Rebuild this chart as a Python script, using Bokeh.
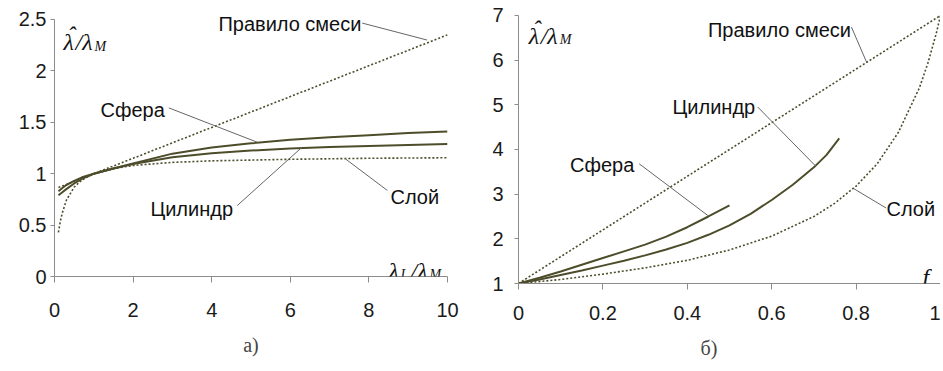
from bokeh.plotting import figure
from bokeh.layouts import row
from bokeh.models import Label, Title, FixedTicker, Range1d
from bokeh.embed import file_html
from bokeh.resources import INLINE

# ---------------- data: panel a) (lambda_I / lambda_M) ----------------
a_x = [0.1, 0.2, 0.3, 0.5, 0.7, 1, 1.5, 2, 3, 4, 5, 6, 7, 8, 9, 10]
a_sphere = [0.83, 0.86, 0.89, 0.93, 0.965, 1.0, 1.05, 1.10, 1.195, 1.255, 1.295, 1.33, 1.355, 1.375, 1.395, 1.41]
a_cylinder = [0.79, 0.82, 0.85, 0.905, 0.95, 1.0, 1.05, 1.095, 1.16, 1.20, 1.225, 1.245, 1.26, 1.27, 1.28, 1.29]
a_layer_x = [0.1, 0.15, 0.2, 0.3, 0.5, 0.7, 1, 1.5, 2, 3, 4, 6, 8, 10]
a_layer = [0.43, 0.54, 0.62, 0.74, 0.87, 0.94, 1.0, 1.05, 1.08, 1.11, 1.125, 1.14, 1.15, 1.155]
a_mix_x = [0.1, 1, 2, 4, 6, 8, 10]
a_mix = [0.865, 1.0, 1.15, 1.45, 1.75, 2.05, 2.35]
a_xticks = [0, 2, 4, 6, 8, 10]
a_xlabels = ["0", "2", "4", "6", "8", "10"]
a_yticks = [0, 0.5, 1, 1.5, 2, 2.5]
a_ylabels = ["0", "0.5", "1", "1.5", "2", "2.5"]

# ---------------- data: panel б) (f) ----------------
b_sphere_f = [0, 0.05, 0.1, 0.15, 0.2, 0.25, 0.3, 0.35, 0.4, 0.45, 0.5]
b_sphere = [1.0, 1.13, 1.27, 1.42, 1.57, 1.72, 1.87, 2.05, 2.26, 2.50, 2.75]
b_cyl_f = [0, 0.05, 0.1, 0.15, 0.2, 0.25, 0.3, 0.35, 0.4, 0.45, 0.5, 0.55, 0.6, 0.65, 0.7, 0.73, 0.76]
b_cylinder = [1.0, 1.09, 1.19, 1.29, 1.40, 1.51, 1.63, 1.76, 1.91, 2.09, 2.30, 2.56, 2.87, 3.21, 3.60, 3.88, 4.25]
b_layer_f = [0, 0.1, 0.2, 0.3, 0.4, 0.5, 0.6, 0.7, 0.75, 0.8, 0.85, 0.9, 0.95, 0.97, 0.99, 1.0]
b_layer = [1.0, 1.09, 1.21, 1.35, 1.52, 1.75, 2.06, 2.5, 2.8, 3.18, 3.68, 4.38, 5.38, 5.93, 6.6, 7.0]
b_mix_f = [0, 0.25, 0.5, 0.75, 1.0]
b_mix = [1.0, 2.5, 4.0, 5.5, 7.0]
b_xticks = [0, 0.2, 0.4, 0.6, 0.8, 1.0]
b_xlabels = ["0", "0.2", "0.4", "0.6", "0.8", "1"]
b_yticks = [1, 2, 3, 4, 5, 6, 7]
b_ylabels = ["1", "2", "3", "4", "5", "6", "7"]

CURVE = "#4d4d2b"
LEADER = "#666666"
AXIS = "#8c8c8c"
SANS = "Liberation Sans"
SERIF = "Liberation Serif"


def style(p, xt, xl, yt, yl, x_standoff, y_standoff):
    p.xaxis.ticker = FixedTicker(ticks=xt)
    p.yaxis.ticker = FixedTicker(ticks=yt)
    p.xaxis.major_label_overrides = {t: l for t, l in zip(xt, xl)}
    p.yaxis.major_label_overrides = {t: l for t, l in zip(yt, yl)}
    p.yaxis.bounds = (yt[0], yt[-1])
    for ax in (p.xaxis, p.yaxis):
        ax.axis_line_color = AXIS
        ax.major_tick_line_color = AXIS
        ax.minor_tick_line_color = None
        ax.major_tick_in = 0
        ax.major_label_text_font = SANS
        ax.major_label_text_font_size = "20px"
        ax.major_label_text_color = "#1a1a1a"
    p.xaxis.major_tick_out = 6
    p.yaxis.major_tick_out = 4
    p.xaxis.major_label_standoff = x_standoff
    p.yaxis.major_label_standoff = y_standoff
    p.grid.visible = False
    p.outline_line_color = None
    p.background_fill_color = "white"
    p.border_fill_color = "white"


def text(p, x, y, s, size="20px", font=SANS, style_="normal", align="left",
         baseline="middle", dx=0, dy=0):
    p.add_layout(Label(x=x, y=y, text=s, text_font=font, text_font_size=size,
                       text_font_style=style_, text_align=align,
                       text_baseline=baseline, x_offset=dx, y_offset=dy,
                       text_color="#111111"))


def leader(p, x0, y0, x1, y1):
    p.segment(x0=[x0], y0=[y0], x1=[x1], y1=[y1], line_color=LEADER, line_width=1)


def ratio_title(p, x, y):
    # \hat{lambda} / lambda_M
    text(p, x, y, "λ", size="24px", font=SERIF, style_="italic", baseline="alphabetic")
    text(p, x, y, "ˆ", size="24px", font=SERIF, style_="italic", baseline="alphabetic", dx=4, dy=7)
    text(p, x, y, "/λ", size="24px", font=SERIF, style_="italic", baseline="alphabetic", dx=12)
    text(p, x, y, "M", size="14px", font=SERIF, style_="italic", baseline="alphabetic", dx=31, dy=-4)


# ---------------- panel a ----------------
p1 = figure(frame_width=393, frame_height=271, x_range=Range1d(0, 10), y_range=Range1d(0, 2.636),
            output_backend="svg", toolbar_location=None, title=None,
            min_border_left=54, min_border_right=26, min_border_top=5, min_border_bottom=0)
style(p1, a_xticks, a_xlabels, a_yticks, a_ylabels, 20, 4)

p1.line(a_mix_x, a_mix, line_color=CURVE, line_width=1.6, line_dash="2 2")
p1.line(a_layer_x, a_layer, line_color=CURVE, line_width=1.6, line_dash="2 2")
p1.line(a_x, a_sphere, line_color=CURVE, line_width=2)
p1.line(a_x, a_cylinder, line_color=CURVE, line_width=2)

text(p1, 4.17, 2.46, "Правило смеси")
leader(p1, 7.83, 2.465, 9.48, 2.30)
text(p1, 1.17, 1.615, "Сфера")
leader(p1, 2.91, 1.64, 5.16, 1.306)
text(p1, 2.44, 0.658, "Цилиндр")
leader(p1, 4.65, 0.69, 6.30, 1.258)
text(p1, 8.55, 0.778, "Слой")
leader(p1, 8.47, 0.837, 7.40, 1.145)

ratio_title(p1, 0.23, 2.28)
text(p1, 8.5, 0.058, "λ", size="24px", font=SERIF, style_="italic", baseline="alphabetic")
text(p1, 8.5, 0.058, "I", size="14px", font=SERIF, style_="italic", baseline="alphabetic", dx=12, dy=-4)
text(p1, 8.5, 0.058, "/λ", size="24px", font=SERIF, style_="italic", baseline="alphabetic", dx=22)
text(p1, 8.5, 0.058, "M", size="14px", font=SERIF, style_="italic", baseline="alphabetic", dx=41, dy=-4)

p1.add_layout(Title(text="а)", align="center", text_font=SERIF, text_font_size="20px",
                    text_font_style="normal", standoff=25), "below")

# ---------------- panel б ----------------
p2 = figure(frame_width=422, frame_height=278, x_range=Range1d(0, 1), y_range=Range1d(1, 7.223),
            output_backend="svg", toolbar_location=None, title=None,
            min_border_left=45, min_border_right=0, min_border_top=5, min_border_bottom=0)
style(p2, b_xticks, b_xlabels, b_yticks, b_ylabels, 16, 11)

p2.line(b_mix_f, b_mix, line_color=CURVE, line_width=1.6, line_dash="2 2")
p2.line(b_layer_f, b_layer, line_color=CURVE, line_width=1.6, line_dash="2 2")
p2.line(b_sphere_f, b_sphere, line_color=CURVE, line_width=2)
p2.line(b_cyl_f, b_cylinder, line_color=CURVE, line_width=2)

text(p2, 0.449, 6.68, "Правило смеси")
leader(p2, 0.789, 6.74, 0.825, 5.95)
text(p2, 0.365, 4.95, "Цилиндр")
leader(p2, 0.567, 4.95, 0.704, 3.63)
text(p2, 0.122, 3.66, "Сфера")
leader(p2, 0.286, 3.68, 0.449, 2.52)
text(p2, 0.872, 2.67, "Слой")
leader(p2, 0.871, 2.69, 0.795, 3.12)

ratio_title(p2, 0.024, 6.55)
text(p2, 0.965, 1.14, "f", size="24px", font=SERIF, style_="italic", baseline="alphabetic", align="center")

p2.add_layout(Title(text="б)", align="left", text_font=SERIF, text_font_size="20px",
                    text_font_style="normal", standoff=24, offset=182), "below")

layout = row(p1, p2)
open("out.html", "w").write(file_html(layout, INLINE))
